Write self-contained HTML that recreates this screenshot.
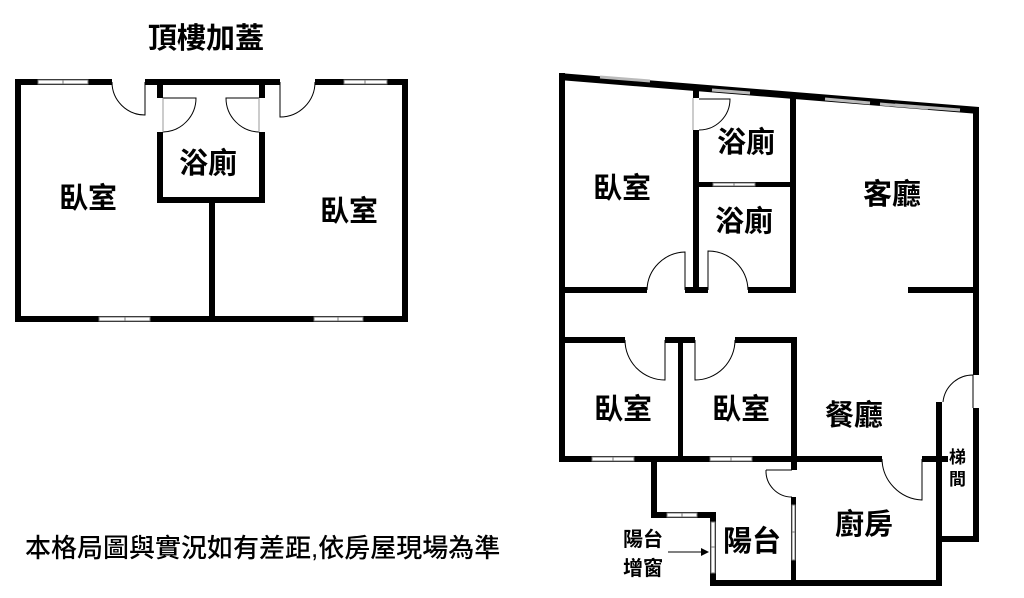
<!DOCTYPE html>
<html><head><meta charset="utf-8"><style>
html,body{margin:0;padding:0;background:#fff;width:1024px;height:598px;overflow:hidden}
svg{display:block}
text{font-family:"Liberation Sans","Noto Sans CJK TC",sans-serif;font-weight:bold;fill:#000}
</style></head><body>
<svg width="1024" height="598" viewBox="0 0 1024 598" xmlns="http://www.w3.org/2000/svg">
<g fill="#000">
<rect x="15" y="79" width="97" height="6"/>
<rect x="145" y="79" width="135" height="6"/>
<rect x="315" y="79" width="93" height="6"/>
<rect x="15" y="79" width="6" height="243"/>
<rect x="402" y="79" width="6" height="243"/>
<rect x="15" y="316" width="393" height="6"/>
<rect x="157" y="79" width="6" height="19"/>
<rect x="157" y="132" width="6" height="71"/>
<rect x="259" y="79" width="6" height="19"/>
<rect x="259" y="132" width="6" height="71"/>
<rect x="157" y="197" width="108" height="6"/>
<rect x="209" y="197" width="6" height="125"/>
<polygon points="559,73 979,107 979,114 559,80"/>
<rect x="559" y="73" width="6" height="389"/>
<rect x="973" y="107" width="6" height="268"/>
<rect x="973" y="408" width="6" height="134"/>
<rect x="693" y="88" width="6" height="10"/>
<rect x="693" y="130" width="6" height="163"/>
<rect x="790" y="96" width="6" height="197"/>
<rect x="696" y="182" width="97" height="5"/>
<rect x="559" y="287" width="88" height="6"/>
<rect x="685" y="287" width="23" height="6"/>
<rect x="748" y="287" width="48" height="6"/>
<rect x="908" y="287" width="71" height="6"/>
<rect x="559" y="337" width="66" height="6"/>
<rect x="665" y="337" width="30" height="6"/>
<rect x="735" y="337" width="62" height="6"/>
<rect x="678" y="337" width="5" height="125"/>
<rect x="791" y="337" width="6" height="133"/>
<rect x="791" y="497" width="5" height="89"/>
<rect x="559" y="456" width="323" height="6"/>
<rect x="922" y="456" width="26" height="6"/>
<rect x="936" y="402" width="6" height="184"/>
<rect x="936" y="536" width="43" height="6"/>
<rect x="651" y="456" width="6" height="62"/>
<rect x="651" y="512" width="65" height="6"/>
<rect x="710" y="512" width="6" height="74"/>
<rect x="710" y="580" width="232" height="6"/>
</g>
<g fill="#fff" stroke="#777" stroke-width="1">
<rect x="38" y="80" width="50" height="4"/>
<rect x="344" y="80" width="43" height="4"/>
<rect x="99" y="317" width="51" height="4"/>
<rect x="314" y="317" width="49" height="4"/>
<rect x="713" y="183" width="42" height="3"/>
<rect x="592" y="457" width="42" height="4"/>
<rect x="710" y="457" width="42" height="4"/>
<rect x="667" y="513" width="30" height="4"/>
<rect x="711" y="522" width="4" height="51"/>
<rect x="792" y="505" width="3" height="55"/>
</g>
<g stroke="#777" stroke-width="1">
<line x1="63" y1="80" x2="63" y2="84"/><line x1="365" y1="80" x2="365" y2="84"/>
<line x1="125" y1="317" x2="125" y2="321"/><line x1="338" y1="317" x2="338" y2="321"/>
<line x1="734" y1="183" x2="734" y2="186"/><line x1="613" y1="457" x2="613" y2="461"/>
<line x1="731" y1="457" x2="731" y2="461"/><line x1="682" y1="513" x2="682" y2="517"/>
<line x1="711" y1="547" x2="715" y2="547"/><line x1="792" y1="532" x2="795" y2="532"/>
</g>
<g stroke="#bbb" stroke-width="3" fill="none">
<line x1="600" y1="77" x2="650" y2="81"/><line x1="712" y1="90" x2="750" y2="93"/>
<line x1="825" y1="99" x2="870" y2="103"/><line x1="880" y1="104" x2="928" y2="108"/>
<line x1="895" y1="105" x2="960" y2="110"/>
</g>
<g fill="none" stroke="#000" stroke-width="1">
<path d="M112,82 A33,33 0 0 0 145,115 L145,82"/>
<path d="M315,82 A35,35 0 0 1 280,117 L280,82"/>
<path d="M163,132 A34,34 0 0 0 196,98 L163,98"/>
<path d="M259,132 A34,34 0 0 1 226,98 L259,98"/>
<path d="M699,130 A31,31 0 0 0 730,99 L699,99"/>
<path d="M647,290 A39,39 0 0 1 685,252 L685,290"/>
<path d="M748,290 A40,40 0 0 0 708,251 L708,290"/>
<path d="M625,340 A40,40 0 0 0 665,380 L665,340"/>
<path d="M735,340 A40,40 0 0 1 695,380 L695,340"/>
<path d="M882,459 A42,42 0 0 0 922,500 L922,459"/>
<path d="M766,470 A26,26 0 0 0 792,497 M766,470 L792,470"/>
<path d="M943,402 A30,30 0 0 1 973,375 M973,375 L973,408"/>
<line x1="163" y1="98" x2="163" y2="132" stroke="#999"/>
<line x1="259" y1="98" x2="259" y2="132" stroke="#999"/>
<line x1="693" y1="98" x2="693" y2="130" stroke="#999"/>
</g>
<line x1="668" y1="552" x2="703" y2="552" stroke="#000" stroke-width="1"/>
<polygon points="709,552 701,548 701,556" fill="#000"/>
<text x="148" y="48" font-size="29">頂樓加蓋</text>
<g font-size="29">
<text x="59" y="208">臥室</text>
<text x="179" y="173">浴廁</text>
<text x="320" y="221">臥室</text>
<text x="593" y="198">臥室</text>
<text x="717" y="152">浴廁</text>
<text x="715" y="231">浴廁</text>
<text x="863" y="204">客廳</text>
<text x="594" y="419">臥室</text>
<text x="712" y="419">臥室</text>
<text x="825" y="425">餐廳</text>
<text x="835" y="534">廚房</text>
<text x="723" y="551">陽台</text>
</g>
<g font-size="17">
<text x="949" y="463">梯</text>
<text x="949" y="485">間</text>
</g>
<g font-size="20">
<text x="623" y="546">陽台</text>
<text x="623" y="575">增窗</text>
</g>
<text x="25" y="557" font-size="26" style="font-weight:500">本格局圖與實況如有差距,依房屋現場為準</text>
</svg>
</body></html>
